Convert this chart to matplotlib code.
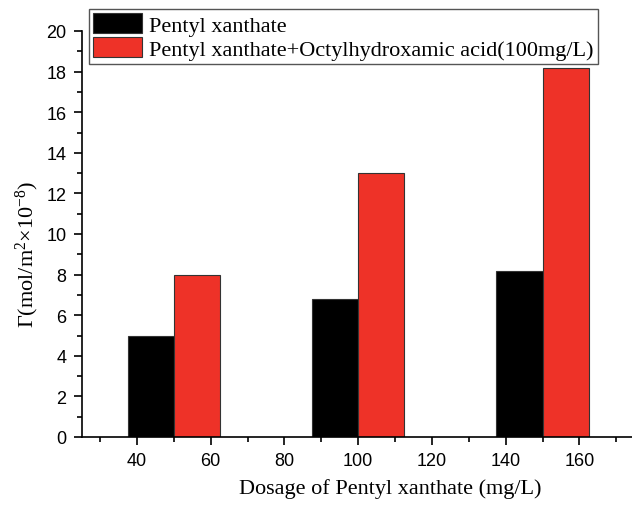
import matplotlib
matplotlib.use("Agg")
import matplotlib.pyplot as plt
from matplotlib.ticker import MultipleLocator
from matplotlib.patches import Patch

plt.rcParams['mathtext.fontset'] = 'custom'
plt.rcParams['mathtext.rm'] = 'Liberation Serif'
plt.rcParams['mathtext.it'] = 'Liberation Serif:italic'

groups = [50, 100, 150]
series_names = ["Pentyl xanthate", "Pentyl xanthate+Octylhydroxamic acid(100mg/L)"]
pentyl = [5.0, 6.8, 8.2]
combined = [8.0, 13.0, 18.2]
colors = ["#000000", "#EE3228"]
bar_w = 12.5

W, H = 632, 506
fig = plt.figure(figsize=(W / 100, H / 100), dpi=100)
ax = fig.add_axes([81.7 / W, 1 - 438 / H, 553 / W, 406 / H])

ax.bar([g - bar_w / 2 for g in groups], pentyl, width=bar_w, color=colors[0],
       edgecolor="#333333", linewidth=0.8)
ax.bar([g + bar_w / 2 for g in groups], combined, width=bar_w, color=colors[1],
       edgecolor="#333333", linewidth=0.8)

ax.set_xlim(25, 175)
ax.set_ylim(0, 20)
ax.xaxis.set_major_locator(MultipleLocator(20))
ax.xaxis.set_minor_locator(MultipleLocator(10))
ax.yaxis.set_major_locator(MultipleLocator(2))
ax.yaxis.set_minor_locator(MultipleLocator(1))
ax.set_xticks([40, 60, 80, 100, 120, 140, 160])

for s in ["top", "right"]:
    ax.spines[s].set_visible(False)
for s in ["left", "bottom"]:
    ax.spines[s].set_linewidth(1.2)

ax.tick_params(which="major", direction="out", length=6, width=1.2,
               labelsize=13, pad=5)
ax.tick_params(which="minor", direction="out", length=3.5, width=1.2)
for lab in ax.get_xticklabels() + ax.get_yticklabels():
    lab.set_fontfamily("Liberation Sans")

ax.set_xlabel("Dosage of Pentyl xanthate (mg/L)", fontfamily="Liberation Serif",
              fontsize=16)
ax.set_ylabel(r"Γ(mol/m$^{2}$×10$^{-8}$)", fontfamily="Liberation Serif",
              fontsize=16)
ax.xaxis.set_label_coords((390 - 81.7) / 553, (438 - 479) / 406)
ax.yaxis.set_label_coords((41 - 81.7) / 553, (438 - 254) / 406)

handles = [Patch(facecolor=colors[0], edgecolor="#333333", linewidth=0.8),
           Patch(facecolor=colors[1], edgecolor="#333333", linewidth=0.8)]
leg = fig.legend(handles, series_names, loc="upper left",
                 bbox_to_anchor=(89 / W, 1 - 10 / H), bbox_transform=fig.transFigure,
                 frameon=True, fancybox=False,
                 edgecolor="#555555", framealpha=1, borderpad=0.2,
                 handlelength=2.2, handleheight=1.0, handletextpad=0.3,
                 labelspacing=0.05, borderaxespad=0,
                 prop={"family": "Liberation Serif", "size": 16})
leg.get_frame().set_linewidth(1.0)

fig.savefig("out.png", dpi=100)
